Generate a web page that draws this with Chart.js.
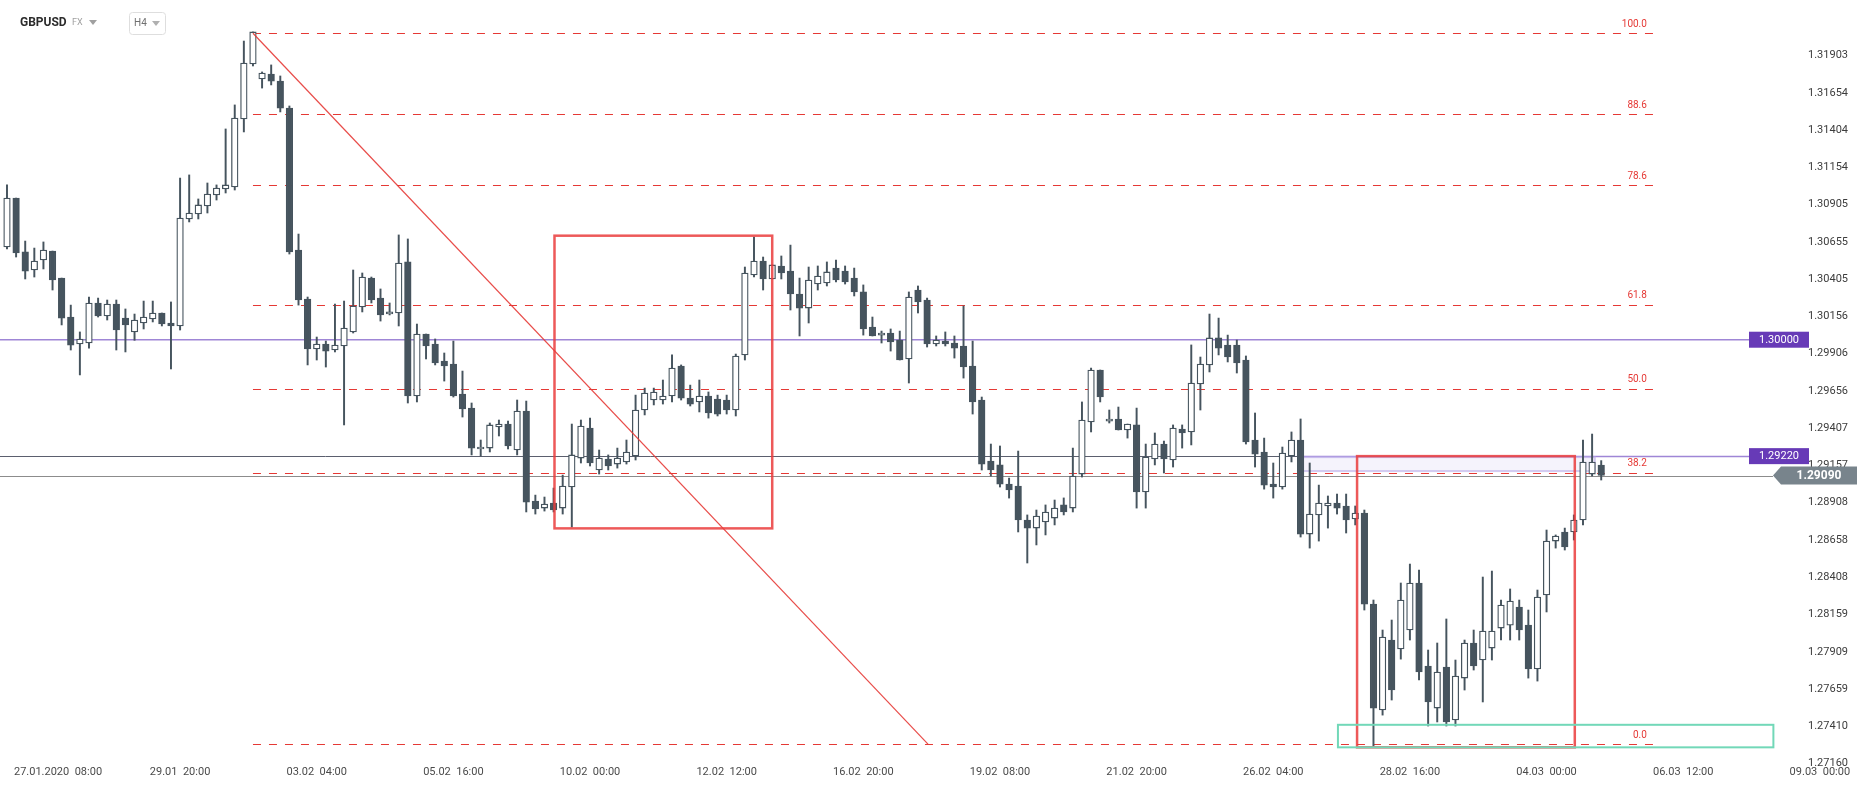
<!DOCTYPE html>
<html>
<head>
<meta charset="utf-8">
<script src="https://cdn.jsdelivr.net/npm/chart.js@4.4.0/dist/chart.umd.min.js"></script>
<style>
  html, body { margin: 0; padding: 0; background: #fff; overflow: hidden; }
  #wrap { width: 1866px; height: 788px; position: relative; }
</style>
</head>
<body>
<div id="wrap"><canvas id="chart" width="1866" height="788"></canvas></div>
<script>
// GBPUSD H4 candles
const opens = [1.30621,1.30949,1.30588,1.30467,1.30534,1.30594,1.30413,1.30152,1.29971,1.29978,
  1.30246,1.30159,1.30239,1.30145,1.30052,1.30112,1.30139,1.30179,1.30112,1.30092,
  1.30809,1.30842,1.30896,1.30970,1.31010,1.31023,1.31479,1.31847,1.31747,1.31780,
  1.31733,1.31552,1.30601,1.30273,1.29938,1.29971,1.29931,1.29958,1.30052,1.30219,
  1.30413,1.30279,1.30172,1.30179,1.30521,1.29623,1.30038,1.29971,1.29857,1.29837,
  1.29636,1.29542,1.29268,1.29274,1.29415,1.29435,1.29261,1.29522,1.28919,1.28872,
  1.28906,1.28872,1.29013,1.29207,1.29408,1.29127,1.29201,1.29167,1.29181,1.29221,
  1.29529,1.29596,1.29596,1.29623,1.29824,1.29609,1.29583,1.29623,1.29603,1.29596,
  1.29529,1.29898,1.30434,1.30527,1.30407,1.30494,1.30460,1.30306,1.30212,1.30373,
  1.30380,1.30480,1.30460,1.30413,1.30320,1.30085,1.30031,1.30045,1.29998,1.29871,
  1.30333,1.30266,1.29971,1.29991,1.29978,1.29958,1.29824,1.29596,1.29187,1.29161,
  1.29033,1.29020,1.28792,1.28738,1.28779,1.28805,1.28893,1.28872,1.29100,1.29449,
  1.29797,1.29455,1.29469,1.29395,1.29429,1.28980,1.29201,1.29301,1.29194,1.29402,
  1.29382,1.29703,1.29831,1.30012,1.29964,1.29964,1.29864,1.29328,1.29248,1.29033,
  1.29013,1.29221,1.29328,1.28698,1.28826,1.28886,1.28906,1.28886,1.28799,1.28839,
  1.28229,1.27519,1.27988,1.27928,1.28055,1.28370,1.27814,1.27532,1.27807,1.27452,
  1.27733,1.27968,1.27854,1.27934,1.28068,1.28088,1.28209,1.28088,1.27794,1.28290,
  1.28651,1.28712,1.28712,1.28792,1.29100,1.29160];
const highs = [1.31037,1.30949,1.30661,1.30614,1.30655,1.30594,1.30413,1.30232,1.30052,1.30286,
  1.30279,1.30266,1.30266,1.30206,1.30172,1.30259,1.30259,1.30179,1.30253,1.31083,
  1.31104,1.30943,1.31050,1.31037,1.31412,1.31573,1.32001,1.32062,1.31794,1.31841,
  1.31767,1.31566,1.30708,1.30286,1.30018,1.29991,1.30239,1.30259,1.30467,1.30447,
  1.30420,1.30340,1.30246,1.30702,1.30675,1.30105,1.30038,1.30005,1.29911,1.29991,
  1.29790,1.29576,1.29328,1.29442,1.29462,1.29455,1.29596,1.29589,1.28959,1.28946,
  1.29006,1.29093,1.29435,1.29462,1.29475,1.29261,1.29228,1.29274,1.29328,1.29629,
  1.29676,1.29676,1.29730,1.29898,1.29831,1.29696,1.29730,1.29650,1.29629,1.29629,
  1.29904,1.30487,1.30688,1.30554,1.30501,1.30561,1.30634,1.30413,1.30487,1.30494,
  1.30521,1.30534,1.30494,1.30480,1.30367,1.30152,1.30058,1.30072,1.30058,1.30320,
  1.30360,1.30279,1.30025,1.30052,1.30025,1.30226,1.29991,1.29616,1.29301,1.29288,
  1.29073,1.29254,1.28826,1.28859,1.28893,1.28926,1.28940,1.29274,1.29583,1.29810,
  1.29797,1.29529,1.29549,1.29435,1.29542,1.29301,1.29375,1.29321,1.29429,1.29429,
  1.29965,1.29884,1.30172,1.30145,1.30031,1.29998,1.29891,1.29509,1.29341,1.29174,
  1.29281,1.29382,1.29469,1.29174,1.29026,1.28953,1.28966,1.28966,1.28886,1.28859,
  1.28256,1.28055,1.28122,1.28370,1.28497,1.28457,1.27921,1.27968,1.28129,1.27854,
  1.27988,1.28055,1.28410,1.28450,1.28256,1.28330,1.28256,1.28189,1.28323,1.28725,
  1.28692,1.28738,1.28826,1.29328,1.29368,1.29190];
const lows = [1.30608,1.30554,1.30407,1.30420,1.30474,1.30333,1.30099,1.29931,1.29764,1.29944,
  1.30152,1.30132,1.29931,1.29918,1.29996,1.30072,1.30119,1.30092,1.29804,1.30065,
  1.30789,1.30809,1.30849,1.30936,1.30983,1.31003,1.31392,1.31834,1.31686,1.31707,
  1.31526,1.30574,1.30232,1.29831,1.29864,1.29817,1.29918,1.29429,1.30045,1.30186,
  1.30246,1.30125,1.30166,1.30092,1.29576,1.29583,1.29871,1.29831,1.29723,1.29616,
  1.29482,1.29228,1.29221,1.29248,1.29355,1.29268,1.29228,1.28846,1.28832,1.28852,
  1.28846,1.28832,1.28745,1.29174,1.29154,1.29100,1.29127,1.29140,1.29167,1.29194,
  1.29496,1.29563,1.29569,1.29583,1.29596,1.29556,1.29516,1.29475,1.29489,1.29502,
  1.29489,1.29864,1.30420,1.30333,1.30407,1.30407,1.30199,1.30025,1.30112,1.30333,
  1.30360,1.30387,1.30373,1.30293,1.30031,1.30025,1.29978,1.29924,1.29864,1.29710,
  1.30179,1.29951,1.29958,1.29958,1.29877,1.29743,1.29502,1.29127,1.29087,1.29013,
  1.28939,1.28712,1.28504,1.28625,1.28692,1.28759,1.28826,1.28846,1.29080,1.29382,
  1.29583,1.29442,1.29395,1.29341,1.28872,1.28872,1.29161,1.29107,1.29147,1.29274,
  1.29295,1.29529,1.29784,1.29898,1.29851,1.29777,1.29301,1.29147,1.28999,1.28939,
  1.28999,1.29181,1.28678,1.28604,1.28651,1.28738,1.28832,1.28705,1.28759,1.28189,
  1.27278,1.27485,1.27586,1.27860,1.27988,1.27720,1.27412,1.27439,1.27412,1.27412,
  1.27653,1.27787,1.27573,1.27854,1.27988,1.27988,1.27988,1.27733,1.27713,1.28176,
  1.28604,1.28591,1.28658,1.28759,1.29087,1.29060];
const closes = [1.30949,1.30581,1.30460,1.30527,1.30601,1.30400,1.30145,1.29964,1.30005,1.30246,
  1.30159,1.30239,1.30066,1.30099,1.30132,1.30152,1.30179,1.30105,1.30092,1.30815,
  1.30849,1.30903,1.30976,1.31016,1.31037,1.31485,1.31854,1.32062,1.31787,1.31733,
  1.31552,1.30588,1.30266,1.29938,1.29971,1.29924,1.29964,1.30078,1.30226,1.30420,
  1.30266,1.30166,1.30186,1.30514,1.29623,1.30038,1.29958,1.29844,1.29824,1.29623,
  1.29536,1.29274,1.29281,1.29429,1.29435,1.29288,1.29522,1.28912,1.28866,1.28899,
  1.28859,1.29020,1.29228,1.29422,1.29174,1.29207,1.29154,1.29207,1.29248,1.29529,
  1.29643,1.29650,1.29623,1.29810,1.29609,1.29569,1.29623,1.29509,1.29502,1.29529,
  1.29891,1.30447,1.30527,1.30407,1.30501,1.30447,1.30306,1.30212,1.30400,1.30427,
  1.30454,1.30400,1.30387,1.30320,1.30072,1.30025,1.30045,1.29985,1.29864,1.30286,
  1.30253,1.29971,1.29998,1.29971,1.29944,1.29817,1.29583,1.29167,1.29127,1.29033,
  1.28993,1.28792,1.28738,1.28819,1.28846,1.28872,1.28846,1.29087,1.29462,1.29797,
  1.29616,1.29469,1.29395,1.29435,1.28980,1.29214,1.29301,1.29201,1.29408,1.29375,
  1.29710,1.29837,1.30012,1.29944,1.29884,1.29844,1.29315,1.29234,1.29026,1.29013,
  1.29241,1.29328,1.28698,1.28832,1.28906,1.28906,1.28872,1.28792,1.28839,1.28229,
  1.27532,1.28008,1.27653,1.28256,1.28370,1.27774,1.27573,1.27774,1.27439,1.27747,
  1.27968,1.27814,1.28048,1.28048,1.28222,1.28249,1.28055,1.27794,1.28276,1.28651,
  1.28685,1.28611,1.28792,1.29181,1.29181,1.29090];

// axis ticks
const priceTicks = [1.27160,1.27410,1.27659,1.27909,1.28159,1.28408,1.28658,1.28908,1.29157,1.29407,
  1.29656,1.29906,1.30156,1.30405,1.30655,1.30905,1.31154,1.31404,1.31654,1.31903];
const dateTickPos = [5.6,19,34,49,64,79,94,109,124,139,154,169,184,199];
const dateLabels = ['27.01.2020  08:00','29.01  20:00','03.02  04:00','05.02  16:00','10.02  00:00',
  '12.02  12:00','16.02  20:00','19.02  08:00','21.02  20:00','26.02  04:00','28.02  16:00',
  '04.03  00:00','06.03  12:00','09.03  00:00'];

// drawings on the chart
const fibLevels = [100.0, 88.6, 78.6, 61.8, 50.0, 38.2, 0.0];
const fibHigh = 1.32053, fibLow = 1.27290;
const fibFrom = 27, fibTo = 181;
const trendLine = [[27, 1.32053], [101.1, 1.27290]];
const redBoxes = [[60.1, 84.0, 1.30697, 1.28736], [148.2, 172.1, 1.29220, 1.27269]];
const greenBox = [146.1, 193.9, 1.27420, 1.27269];
const shadeBox = [142.1, 174.3, 1.29220, 1.29120];
const levelLines = [1.30000, 1.29220];
const lastPrice = 1.29090;

const BEAR = '#46545e', BULL = '#ffffff', EDGE = '#46545e';
const idx = opens.map((_, i) => i);

const bodies = idx.map(i => ({x: i, y: [Math.min(opens[i], closes[i]), Math.max(opens[i], closes[i])]}));
const wicks = idx.map(i => ({x: i, y: [lows[i], highs[i]]}));
const bodyColors = idx.map(i => closes[i] >= opens[i] ? BULL : BEAR);

const drawings = {
  id: 'drawings',
  beforeDatasetsDraw(chart) {
    const {ctx, scales: {x, y}, chartArea} = chart;
    const R = chartArea.right;
    ctx.save();
    // fib levels
    ctx.strokeStyle = '#e53935';
    ctx.lineWidth = 1;
    ctx.setLineDash([8, 8]);
    fibLevels.forEach(l => {
      const py = Math.round(y.getPixelForValue(fibLow + (fibHigh - fibLow) * l / 100)) + 0.5;
      ctx.beginPath();
      ctx.moveTo(x.getPixelForValue(fibFrom), py);
      ctx.lineTo(x.getPixelForValue(fibTo), py);
      ctx.stroke();
    });
    ctx.setLineDash([]);
    ctx.fillStyle = '#e53935';
    ctx.font = '10px Roboto';
    ctx.textAlign = 'right';
    ctx.textBaseline = 'bottom';
    fibLevels.forEach(l => {
      const py = y.getPixelForValue(fibLow + (fibHigh - fibLow) * l / 100);
      ctx.fillText(l.toFixed(1), x.getPixelForValue(fibTo) - 9, py - 4);
    });
    // horizontal levels
    const sx0 = x.getPixelForValue(shadeBox[0]), sx1 = x.getPixelForValue(shadeBox[1]);
    ctx.lineWidth = 1.5;
    let py = y.getPixelForValue(levelLines[0]);
    ctx.strokeStyle = '#9f86d6';
    ctx.beginPath(); ctx.moveTo(chartArea.left, py); ctx.lineTo(R - 99, py); ctx.stroke();
    py = Math.round(y.getPixelForValue(levelLines[1])) + 0.5;
    ctx.lineWidth = 1;
    ctx.strokeStyle = '#5b5f6e';
    ctx.beginPath(); ctx.moveTo(chartArea.left, py); ctx.lineTo(sx0, py); ctx.stroke();
    ctx.lineWidth = 1.5;
    ctx.strokeStyle = '#9f86d6';
    ctx.beginPath(); ctx.moveTo(sx0, py); ctx.lineTo(R - 99, py); ctx.stroke();
    ctx.strokeStyle = '#8c8c8c';
    ctx.lineWidth = 1;
    const lp = Math.round(y.getPixelForValue(lastPrice)) + 0.5;
    ctx.beginPath();
    ctx.moveTo(chartArea.left, lp);
    ctx.lineTo(R - 75, lp);
    ctx.stroke();
    // lavender zone
    ctx.fillStyle = 'rgba(200,190,240,0.18)';
    ctx.strokeStyle = 'rgba(185,170,232,0.6)';
    ctx.lineWidth = 2;
    const sy0 = y.getPixelForValue(shadeBox[2]), sy1 = y.getPixelForValue(shadeBox[3]);
    ctx.fillRect(sx0, sy0, sx1 - sx0, sy1 - sy0);
    ctx.strokeRect(sx0, sy0 + 1, sx1 - sx0, sy1 - sy0 - 1);
    ctx.restore();
  },
  afterDatasetsDraw(chart) {
    const {ctx, scales: {x, y}, chartArea} = chart;
    const R = chartArea.right;
    ctx.save();
    // trend line
    ctx.strokeStyle = 'rgba(229,57,53,0.9)';
    ctx.lineWidth = 1.2;
    ctx.beginPath();
    ctx.moveTo(x.getPixelForValue(trendLine[0][0]), y.getPixelForValue(trendLine[0][1]));
    ctx.lineTo(x.getPixelForValue(trendLine[1][0]), y.getPixelForValue(trendLine[1][1]));
    ctx.stroke();
    // boxes
    ctx.strokeStyle = 'rgba(234,60,60,0.85)';
    ctx.lineWidth = 2.5;
    redBoxes.forEach(b => {
      const x0 = x.getPixelForValue(b[0]), x1 = x.getPixelForValue(b[1]);
      const y0 = y.getPixelForValue(b[2]), y1 = y.getPixelForValue(b[3]);
      ctx.strokeRect(x0, y0, x1 - x0, y1 - y0);
    });
    ctx.strokeStyle = '#72d8b8';
    ctx.lineWidth = 2;
    {
      const x0 = x.getPixelForValue(greenBox[0]), x1 = x.getPixelForValue(greenBox[1]);
      const y0 = y.getPixelForValue(greenBox[2]), y1 = y.getPixelForValue(greenBox[3]);
      ctx.strokeRect(x0, y0, x1 - x0, y1 - y0);
    }
    // price tags
    ctx.font = '11px Roboto';
    ctx.textAlign = 'center';
    ctx.textBaseline = 'middle';
    levelLines.forEach(v => {
      const py = y.getPixelForValue(v);
      ctx.fillStyle = '#673ab7';
      ctx.fillRect(R - 99, py - 8, 60, 16);
      ctx.fillStyle = '#ffffff';
      ctx.fillText(v.toFixed(5), R - 69, py + 0.5);
    });
    const py = y.getPixelForValue(lastPrice);
    ctx.fillStyle = '#78848c';
    ctx.beginPath();
    ctx.moveTo(R - 75, py);
    ctx.lineTo(R - 67, py - 9);
    ctx.lineTo(R + 9, py - 9);
    ctx.lineTo(R + 9, py + 9);
    ctx.lineTo(R - 67, py + 9);
    ctx.closePath();
    ctx.fill();
    ctx.fillStyle = '#ffffff';
    ctx.font = 'bold 12px Roboto';
    ctx.fillText(lastPrice.toFixed(5), R - 29, py + 0.5);
    // header
    ctx.textAlign = 'left';
    ctx.fillStyle = '#2c2c2c';
    ctx.font = 'bold 12px Roboto';
    ctx.fillText('GBPUSD', 20, 23);
    ctx.fillStyle = '#a0a0a0';
    ctx.font = '9px Roboto';
    ctx.fillText('FX', 72, 23);
    ctx.beginPath();
    ctx.moveTo(89, 20); ctx.lineTo(97, 20); ctx.lineTo(93, 25); ctx.closePath(); ctx.fill();
    ctx.strokeStyle = '#dedede';
    ctx.lineWidth = 1;
    ctx.beginPath();
    ctx.roundRect(129.5, 12.5, 36, 22, 3);
    ctx.stroke();
    ctx.fillStyle = '#707070';
    ctx.font = '10px Roboto';
    ctx.fillText('H4', 134, 23.5);
    ctx.fillStyle = '#b0b0b0';
    ctx.beginPath();
    ctx.moveTo(152, 21); ctx.lineTo(160, 21); ctx.lineTo(156, 26); ctx.closePath(); ctx.fill();
    ctx.restore();
  }
};

new Chart(document.getElementById('chart'), {
  type: 'bar',
  data: {
    datasets: [
      {label: 'body', data: bodies, backgroundColor: bodyColors, borderColor: EDGE, borderWidth: 1.3,
        borderSkipped: false, barThickness: 6.6, minBarLength: 1.3, grouped: false, order: 1},
      {label: 'wick', data: wicks, backgroundColor: EDGE, borderWidth: 0,
        barThickness: 1.3, grouped: false, order: 2}
    ]
  },
  options: {
    responsive: false,
    devicePixelRatio: 1,
    animation: false,
    layout: {padding: 0},
    plugins: {legend: {display: false}, tooltip: {enabled: false}},
    scales: {
      x: {
        type: 'linear', min: -0.768, max: 202.09, offset: false,
        grid: {display: false}, border: {display: false},
        ticks: {
          autoSkip: false, maxRotation: 0, padding: -8, color: '#4a4a4a',
          font: {family: 'Roboto', size: 11},
          callback: (v) => { const k = dateTickPos.indexOf(v); return k >= 0 ? dateLabels[k] : ''; }
        },
        afterBuildTicks: (s) => { s.ticks = dateTickPos.map(v => ({value: v})); },
        afterFit: (s) => { s.height = 22; s.paddingLeft = 0; s.paddingRight = 0; }
      },
      y: {
        type: 'linear', position: 'right', min: 1.27144, max: 1.32276,
        grid: {display: false}, border: {display: false},
        ticks: {mirror: true, padding: 0, crossAlign: 'near', color: '#3c3c3c',
          font: {family: 'Roboto', size: 11},
          callback: (v) => v.toFixed(5)},
        afterBuildTicks: (s) => { s.ticks = priceTicks.map(v => ({value: v})); },
        afterFit: (s) => { s.width = 18; s.paddingTop = 0; s.paddingBottom = 0; }
      }
    }
  },
  plugins: [drawings]
});
</script>
</body>
</html>
